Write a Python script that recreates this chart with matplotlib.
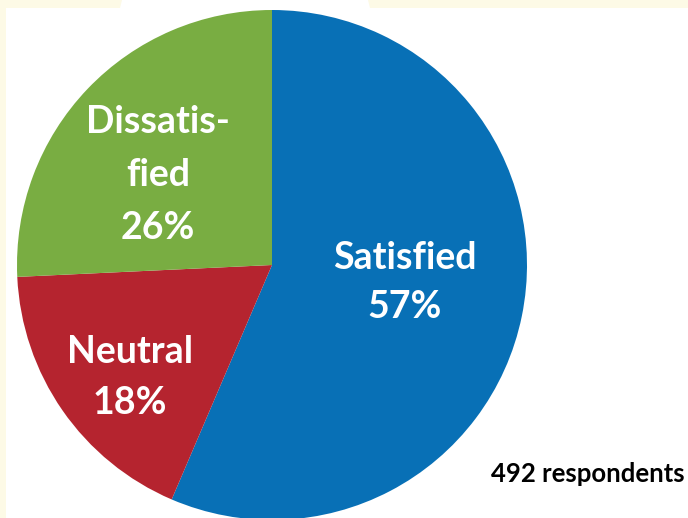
import matplotlib
matplotlib.use("Agg")
import matplotlib.pyplot as plt
from matplotlib.patches import Rectangle, Polygon

categories = ["Satisfied", "Neutral", "Dissatisfied"]
values = [57, 18, 26]
label_lines = [["Satisfied", "57%"], ["Neutral", "18%"], ["Dissatis-", "fied", "26%"]]
colors = ["#0870b6", "#b5242f", "#79ad42"]
note = "492 respondents"

W, H = 688, 518
fig = plt.figure(figsize=(W / 100, H / 100), dpi=100)
fig.patch.set_facecolor("#fdfae6")
ax = fig.add_axes([0, 0, 1, 1])

# white panel
ax.add_patch(Rectangle((6, 8), W - 6, H - 8, facecolor="white", edgecolor="none", zorder=0))
ax.add_patch(Polygon([(122, 0), (368, 0), (370, 8), (120, 8)], closed=True,
                     facecolor="white", edgecolor="none", zorder=0))

cx, cy, r = 272, 265, 255
# y axis is inverted (pixel coords), so draw counterclockwise from -90 in data
ax.pie(values, colors=colors, startangle=-90, counterclock=True,
       center=(cx, cy), radius=r, wedgeprops=dict(linewidth=0), frame=True)
ax.set_xlim(0, W)
ax.set_ylim(H, 0)
ax.set_aspect("equal")
ax.axis("off")

font = "Lato"
pos = [(405, [258, 307]), (130, [352, 403]), (158, [122, 175, 228])]
for (x, ys), lines in zip(pos, label_lines):
    for y, t in zip(ys, lines):
        ax.text(x, y, t, color="white", fontsize=27, fontweight="bold",
                family=font, ha="center", va="center")

ax.text(685, 474, note, color="black", fontsize=18.5, fontweight="bold",
        family=font, ha="right", va="center")

fig.savefig("out.png", dpi=100, facecolor=fig.get_facecolor())
